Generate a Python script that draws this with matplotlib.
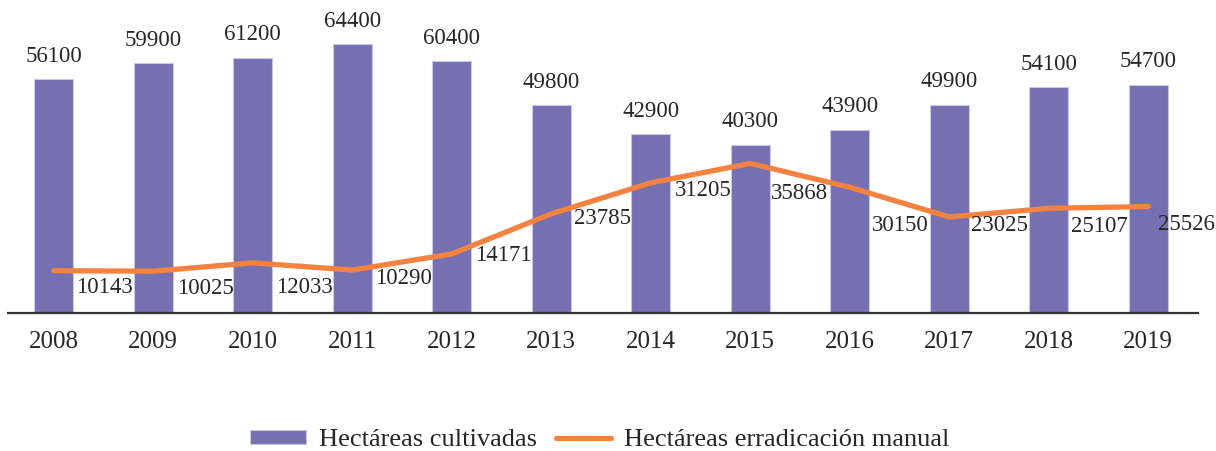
import matplotlib
matplotlib.use('Agg')
from matplotlib import pyplot as plt

years = ['2008', '2009', '2010', '2011', '2012', '2013',
         '2014', '2015', '2016', '2017', '2018', '2019']
cultivadas = [56100, 59900, 61200, 64400, 60400, 49800,
              42900, 40300, 43900, 49900, 54100, 54700]
erradicacion = [10143, 10025, 12033, 10290, 14171, 23785,
                31205, 35868, 30150, 23025, 25107, 25526]

# label placement for the line values (offset from point, in px)
line_dx = [51, 52, 52, 51, 52, 51, 52, 49, 50, 50, 51, 38]
line_dy = [17, 17, 25, 8, 2, 5, 8, 30, 38, 9, 18, 18]

purple = '#7470B2'
orange = '#F5823F'
txt = '#262626'

plt.rcParams['font.family'] = ['Liberation Serif', 'DejaVu Serif']

fig = plt.figure(figsize=(12.16, 4.51), dpi=100)
ax = fig.add_axes([8 / 1216, (451 - 313) / 451, 1190 / 1216, 300 / 451])

x = list(range(len(years)))
bars = ax.bar(x, cultivadas, width=0.39, color=purple, edgecolor='#c9c6e6',
              linewidth=0.8, label='Hectáreas cultivadas', zorder=2)
line, = ax.plot(x, erradicacion, color=orange, lw=3.8, solid_capstyle='round',
                solid_joinstyle='round', label='Hectáreas erradicación manual', zorder=3)

px = 0.72  # points per pixel at dpi 100
for i, v in enumerate(cultivadas):
    ax.annotate(str(v), (i, v), xytext=(0, 23 * px), textcoords='offset points',
                ha='center', va='center', fontsize=16.5, color=txt)
for i, v in enumerate(erradicacion):
    ax.annotate(str(v), (i, v), xytext=(line_dx[i] * px, -line_dy[i] * px),
                textcoords='offset points', ha='center', va='center',
                fontsize=16.5, color=txt, zorder=4)

ax.set_xlim(-0.46, 11.5)
ax.set_ylim(0, 300 / 0.004171)
ax.set_xticks(x)
ax.set_xticklabels(years, fontsize=18, color=txt)
ax.tick_params(axis='x', length=0, pad=13)
ax.set_yticks([])
for s in ['top', 'right', 'left']:
    ax.spines[s].set_visible(False)
ax.spines['bottom'].set_color('#333333')
ax.spines['bottom'].set_linewidth(1.6)

fig.legend([bars, line], ['Hectáreas cultivadas', 'Hectáreas erradicación manual'],
           loc='center', bbox_to_anchor=(600 / 1216, 1 - 440 / 451), ncol=2,
           frameon=False, fontsize=19, handlelength=2.1, handleheight=0.45,
           handletextpad=0.5, columnspacing=0.7, labelcolor=txt)

plt.savefig('out.png', dpi=100)
